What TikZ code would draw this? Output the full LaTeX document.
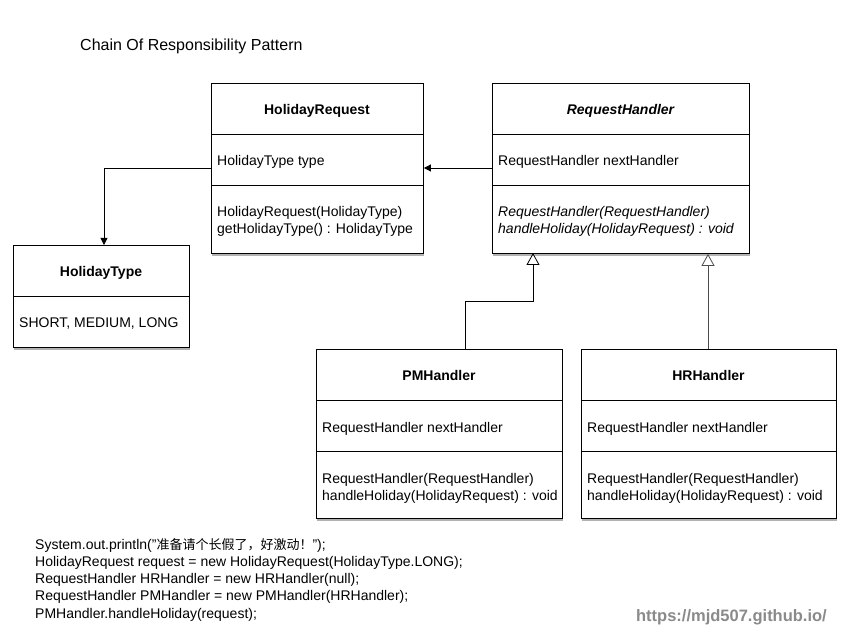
\documentclass[tikz,border=0pt]{standalone}
\usepackage{fontspec}
\setmainfont{Liberation Sans}
\newfontfamily\cjk{Noto Sans CJK SC}
\usetikzlibrary{arrows.meta}
\definecolor{urlgray}{HTML}{8A8A8A}
\tikzset{
  classbox/.style={draw=black, line width=0.9pt, fill=white, inner sep=0pt, anchor=north west},
  boxshadow/.style={fill=black!30, draw=none},
  ctitle/.style={font=\fontsize{14}{17}\selectfont\bfseries, anchor=base, inner sep=0pt},
  cattr/.style={font=\fontsize{14}{17}\selectfont, anchor=base west, inner sep=0pt},
  codeline/.style={font=\fontsize{14}{17}\selectfont, anchor=base west, inner sep=0pt},
  assoc/.style={line width=0.8pt, -{Triangle[length=7pt,width=7pt]}},
  inherit/.style={line width=0.8pt, -{Triangle[open,length=12pt,width=13pt]}},
}
% #1 name, #2 x1, #3 y1, #4 x2, #5 y2, #6 first divider, #7 second divider (or empty)
\newcommand{\umlbox}[7]{%
  \fill[boxshadow] (#2+0.5,#3+3) rectangle (#4+1,#5+3);
  \node[classbox, minimum width=#4-#2, minimum height=#5-#3] (#1) at (#2,#3) {};
  \draw[line width=0.9pt] (#2,#6) -- (#4,#6);
  \if\relax\detokenize{#7}\relax\else\draw[line width=0.9pt] (#2,#7) -- (#4,#7);\fi
}
\begin{document}
\begin{tikzpicture}[x=1pt,y=-1pt]
\useasboundingbox[fill=white] (0,0) rectangle (849,644);

\node[anchor=base west, inner sep=0pt, font=\fontsize{16}{19}\selectfont] (title) at (80,51) {Chain Of Responsibility Pattern};

% HolidayRequest
\umlbox{hr}{211}{83}{423}{253}{134}{185}
\node[ctitle] (hrT) at (317,115) {HolidayRequest};
\node[cattr] (hrA) at (217,166) {HolidayType type};
\node[cattr] (hrM1) at (217,217) {HolidayRequest(HolidayType)};
\node[cattr] (hrM2) at (217,234) {getHolidayType() : HolidayType};

% RequestHandler
\umlbox{rh}{492}{83}{749}{253}{134}{185}
\node[ctitle, font=\fontsize{14}{17}\selectfont\bfseries\itshape] (rhT) at (620.5,115) {RequestHandler};
\node[cattr] (rhA) at (498,166) {RequestHandler nextHandler};
\node[cattr, font=\fontsize{14}{17}\selectfont\itshape] (rhM1) at (498,217) {RequestHandler(RequestHandler)};
\node[cattr, font=\fontsize{14}{17}\selectfont\itshape] (rhM2) at (498,234) {handleHoliday(HolidayRequest) : void};

% HolidayType
\umlbox{ht}{13}{245}{189}{347}{296}{}
\node[ctitle] (htT) at (101,277) {HolidayType};
\node[cattr] (htA) at (19,328) {SHORT, MEDIUM, LONG};

% PMHandler
\umlbox{pm}{316}{349}{562}{518}{400}{451}
\node[ctitle] (pmT) at (439,381) {PMHandler};
\node[cattr] (pmA) at (322,432) {RequestHandler nextHandler};
\node[cattr] (pmM1) at (322,483) {RequestHandler(RequestHandler)};
\node[cattr] (pmM2) at (322,500) {handleHoliday(HolidayRequest) : void};

% HRHandler
\umlbox{hh}{581}{349}{836}{518}{400}{451}
\node[ctitle] (hhT) at (708.5,381) {HRHandler};
\node[cattr] (hhA) at (587,432) {RequestHandler nextHandler};
\node[cattr] (hhM1) at (587,483) {RequestHandler(RequestHandler)};
\node[cattr] (hhM2) at (587,500) {handleHoliday(HolidayRequest) : void};

% connectors
\draw[assoc] (rh.west |- 0,168) -- (hr.east |- 0,168);
\draw[assoc] (hr.west |- 0,168) -- (104,168) -- (104,245 |- ht.north);
\coordinate (pmTop) at (465.5,349);
\coordinate (rhB1) at (533,253);
\draw[inherit] (pmTop) -- (465.5,301) -- (533,301) -- (rhB1);
\draw[inherit, draw=black!70] (hh.north -| 708,0) -- (708,0 |- rh.south);

% code
\node[codeline] (c1) at (35,549) {System.out.println("{\cjk\fontsize{13}{17}\selectfont 准备请个长假了，好激动！}");};
\node[codeline] (c2) at (35,566.3) {HolidayRequest request = new HolidayRequest(HolidayType.LONG);};
\node[codeline] (c3) at (35,583.6) {RequestHandler HRHandler = new HRHandler(null);};
\node[codeline] (c4) at (35,600.9) {RequestHandler PMHandler = new PMHandler(HRHandler);};
\node[codeline] (c5) at (35,618.2) {PMHandler.handleHoliday(request);};

\node[anchor=base east, inner sep=0pt, text=urlgray, font=\fontsize{16.5}{19}\selectfont\bfseries] (url) at (827,621) {https://mjd507.github.io/};
\end{tikzpicture}
\end{document}
